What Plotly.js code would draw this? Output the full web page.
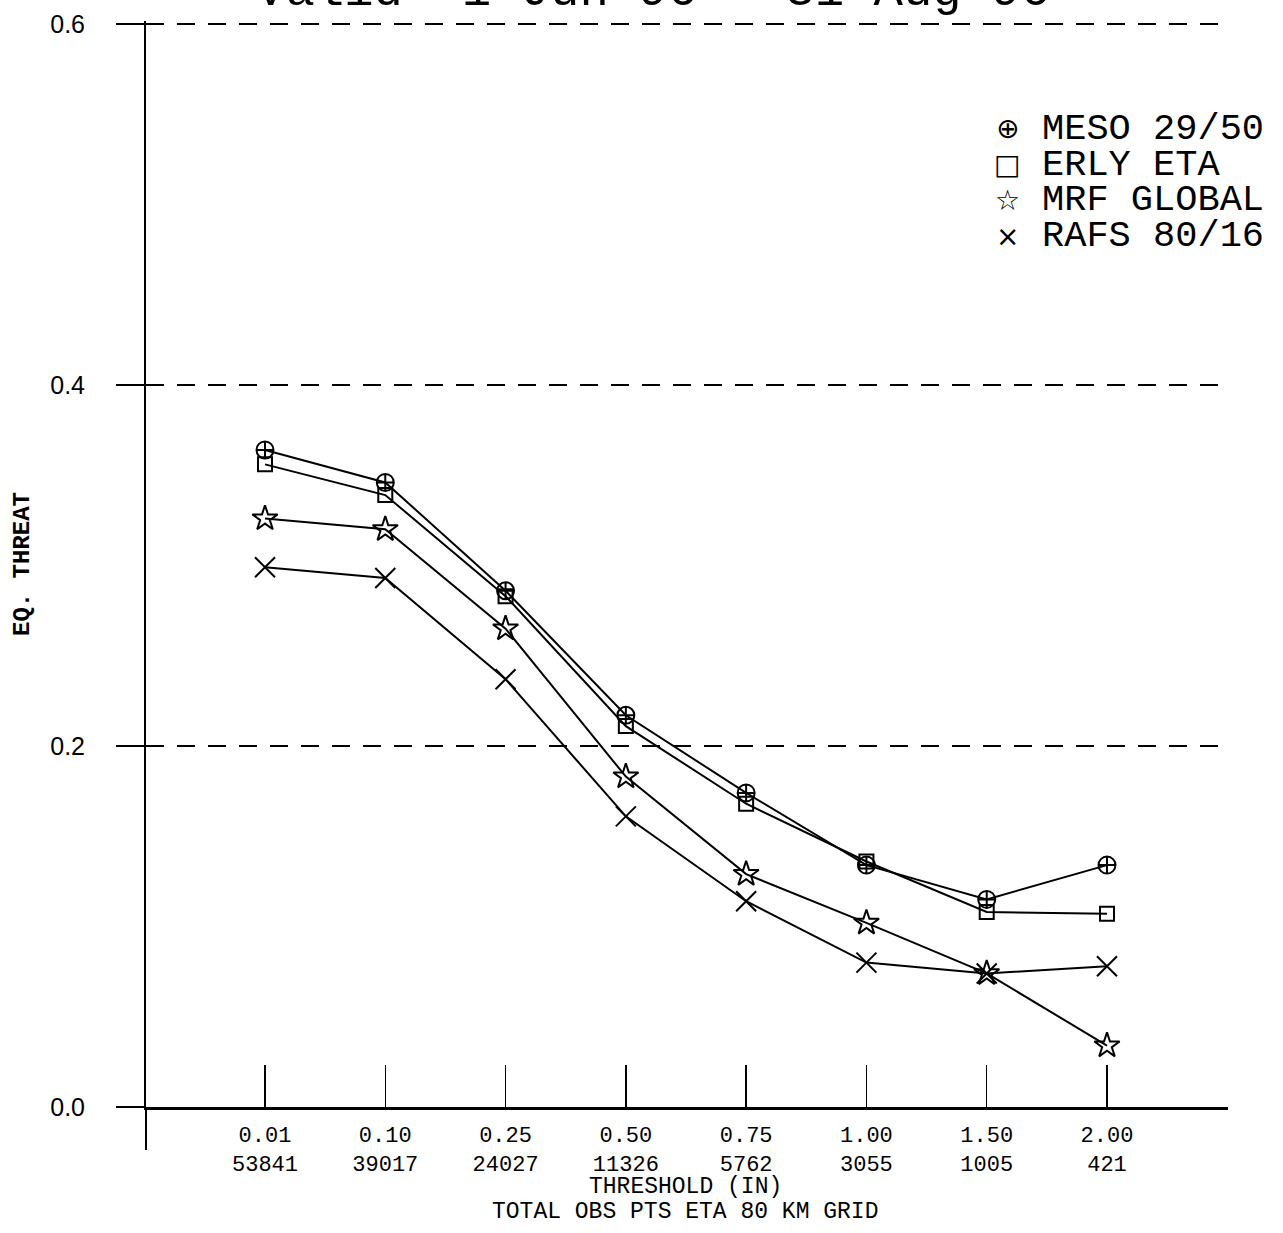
<!DOCTYPE html>
<html>
<head>
<meta charset="utf-8">
<script src="https://cdn.plot.ly/plotly-3.0.1.min.js"></script>
<style>html,body{margin:0;padding:0;background:#fff;}</style>
</head>
<body>
<div id="chart" style="width:1283px;height:1233px;"></div>
<script>
// Data
const thresholds = ["0.01", "0.10", "0.25", "0.50", "0.75", "1.00", "1.50", "2.00"];
const obsPts = ["53841", "39017", "24027", "11326", "5762", "3055", "1005", "421"];
const xPos = [1, 2, 3, 4, 5, 6, 7, 8];
const meso = [0.364, 0.346, 0.286, 0.217, 0.174, 0.134, 0.115, 0.134];
const erly = [0.356, 0.339, 0.283, 0.211, 0.168, 0.136, 0.108, 0.107];
const mrf  = [0.326, 0.320, 0.265, 0.183, 0.129, 0.102, 0.074, 0.034];
const rafs = [0.299, 0.293, 0.237, 0.161, 0.114, 0.080, 0.074, 0.078];
const seriesNames = ["MESO 29/50", "ERLY ETA", "MRF GLOBAL", "RAFS 80/16"];
const seriesGlyphs = ["\u2295", "\u25A1", "\u2606", "\u00D7"];
const yTicks = [0.0, 0.2, 0.4, 0.6];
const yTickText = ["0.0", "0.2", "0.4", "0.6"];

const MONO = "Liberation Mono, Courier New, monospace";

function tr(y, sym, size) {
  return {
    x: xPos, y: y, type: "scatter", mode: "lines+markers",
    line: {color: "#000", width: 2},
    marker: {symbol: sym, size: size, color: "#000", line: {color: "#000", width: 2}},
    showlegend: false, cliponaxis: false, hoverinfo: "skip"
  };
}

const data = [
  tr(meso, "circle-cross-open", 17),
  tr(erly, "square-open", 14),
  tr(mrf, "star-open", 19),
  tr(rafs, "x-thin-open", 20)
];

const annotations = [];
// title (partially cut off at the top, as in the reference)
annotations.push({
  text: "Valid  1 Jun 96 - 31 Aug 96", xref: "paper", yref: "paper",
  x: 0.4686, y: 1, xanchor: "center", yanchor: "bottom", yshift: -1,
  showarrow: false, font: {family: MONO, size: 49, color: "#000"}
});
// legend
const legY = [0.9008, 0.8678, 0.8348, 0.8018];
for (let i = 0; i < seriesNames.length; i++) {
  annotations.push({
    text: seriesGlyphs[i], xref: "paper", yref: "paper",
    x: 0.7958, y: legY[i], xanchor: "center", yanchor: "middle",
    showarrow: false, font: {family: "DejaVu Sans", size: 28, color: "#000"}
  });
  annotations.push({
    text: seriesNames[i], xref: "paper", yref: "paper",
    x: 0.8262, y: legY[i], xanchor: "left", yanchor: "middle",
    showarrow: false, font: {family: MONO, size: 37, color: "#000"}
  });
}
// x axis titles
annotations.push({
  text: "THRESHOLD (IN)", xref: "paper", yref: "paper",
  x: 0.4986, y: -0.0735, xanchor: "center", yanchor: "middle",
  showarrow: false, font: {family: MONO, size: 23, color: "#000"}
});
annotations.push({
  text: "TOTAL OBS PTS ETA 80 KM GRID", xref: "paper", yref: "paper",
  x: 0.4986, y: -0.0965, xanchor: "center", yanchor: "middle",
  showarrow: false, font: {family: MONO, size: 23, color: "#000"}
});

const layout = {
  width: 1283, height: 1233,
  margin: {l: 146, r: 55, t: 21, b: 126},
  paper_bgcolor: "#fff", plot_bgcolor: "#fff",
  showlegend: false,
  xaxis: {
    range: [0.0107, 9.006], showgrid: false, zeroline: false,
    showline: true, linecolor: "#000", linewidth: 2.5,
    ticks: "inside", ticklen: 42, tickwidth: 1.5, tickcolor: "#000",
    tickvals: xPos,
    ticktext: thresholds.map((t, i) => t + "<br>" + obsPts[i]),
    tickfont: {family: MONO, size: 22, color: "#000"},
    ticklabelstandoff: 6
  },
  yaxis: {
    range: [0, 0.6016], showgrid: true, gridcolor: "#000", gridwidth: 2,
    griddash: "18px,13px", zeroline: false,
    showline: true, linecolor: "#000", linewidth: 2,
    ticks: "outside", ticklen: 28, tickwidth: 2, tickcolor: "#000",
    tickvals: yTicks, ticktext: yTickText,
    tickfont: {family: "Liberation Sans, Arial, sans-serif", size: 25, color: "#000"},
    ticklabelstandoff: 26,
    title: {text: "<b>EQ. THREAT</b>", font: {family: MONO, size: 24, color: "#000"}, standoff: 14}
  },
  shapes: [
    {type: "line", xref: "paper", yref: "paper", x0: 0, x1: 0, y0: 0, y1: -0.0397,
     line: {color: "#000", width: 2}}
  ],
  annotations: annotations
};

Plotly.newPlot("chart", data, layout, {displayModeBar: false, staticPlot: true});
</script>
</body>
</html>
